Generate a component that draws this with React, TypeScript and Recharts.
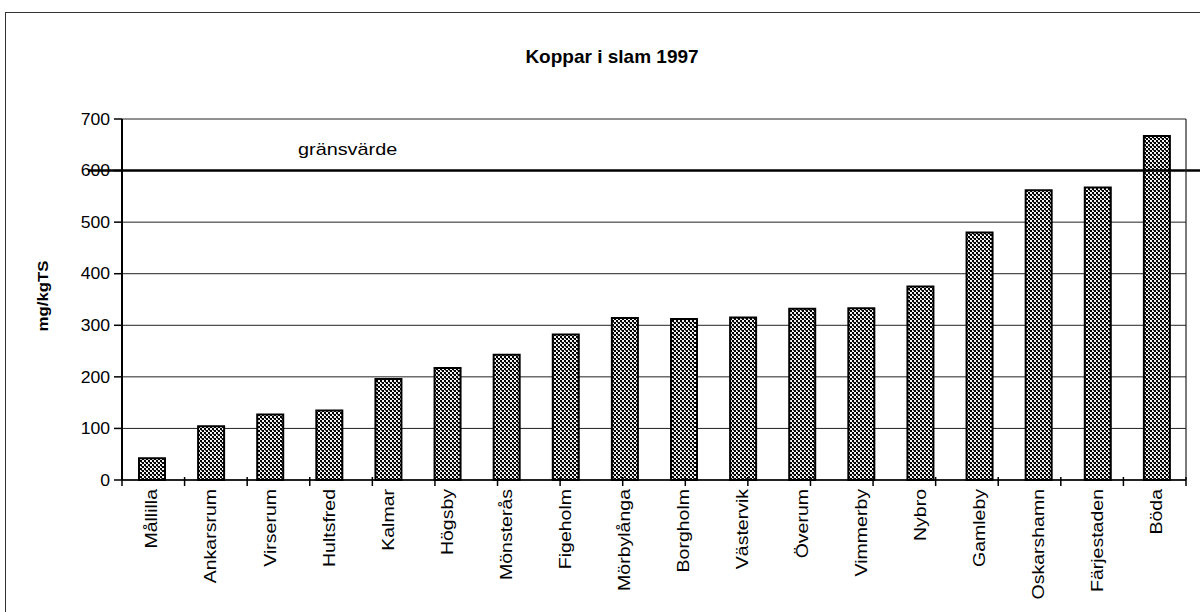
import { BarChart, Bar, XAxis, YAxis, CartesianGrid, ReferenceLine } from 'recharts';

const towns = [
  'Mållilla', 'Ankarsrum', 'Virserum', 'Hultsfred', 'Kalmar', 'Högsby',
  'Mönsterås', 'Figeholm', 'Mörbylånga', 'Borgholm', 'Västervik', 'Överum',
  'Vimmerby', 'Nybro', 'Gamleby', 'Oskarshamn', 'Färjestaden', 'Böda',
];
const copper = [42, 104, 127, 135, 196, 217, 243, 282, 314, 312, 315, 332, 333, 375, 480, 562, 567, 667];
const yTicks = [0, 100, 200, 300, 400, 500, 600, 700];
const limitValue = 600;
const limitLabel = 'gränsvärde';

const data = towns.map((name, i) => ({ name, value: copper[i] }));
const slots = towns.map((_, i) => i).concat(towns.length);

const font = '"Liberation Sans", Arial, sans-serif';

const TownTick = (props: any) => {
  const { x, y, payload } = props;
  return (
    <g transform={`translate(${x},${y})`}>
      <text
        transform="rotate(-90) scale(1.22,1)"
        textAnchor="end"
        dy="0.36em"
        fontSize={16}
        fontFamily={font}
        fill="#000"
      >
        {payload.value}
      </text>
    </g>
  );
};

// tick marks between categories, crossing the axis line
const SlotTick = (props: any) => {
  const { x, y } = props;
  return <line x1={x} x2={x} y1={y - 4} y2={y + 5} stroke="#000" strokeWidth={1.5} />;
};

const ValueTick = (props: any) => {
  const { x, y, payload } = props;
  return (
    <g transform={`translate(${x},${y})`}>
      <text transform="scale(1.1,1)" dy="0.36em" textAnchor="end" fontSize={16} fontFamily={font} fill="#000">
        {payload.value}
      </text>
    </g>
  );
};

const LimitLine = (p: any) => (
  <line x1={p.x1 - 34} y1={p.y1} x2={p.x2 + 14} y2={p.y2} stroke="#000" strokeWidth={2.5} />
);

const LimitLabel = (p: any) => (
  <g transform={`translate(${p.viewBox.x + 176},${p.viewBox.y - 16})`}>
    <text transform="scale(1.24,1)" fontSize={16} fontFamily={font} fill="#000">
      {limitLabel}
    </text>
  </g>
);

const App = () => {
  return (
    <div style={{ position: 'absolute', left: 0, top: 0, width: 1200, height: 612, background: '#fff', overflow: 'hidden' }}>
      <div style={{ position: 'absolute', left: 5, top: 12, right: 0, bottom: 0, borderLeft: '1px solid #333', borderTop: '1px solid #333' }} />
      <div
        style={{
          position: 'absolute', left: 0, width: 1224, top: 46, textAlign: 'center',
          fontFamily: font, fontWeight: 'bold', fontSize: 19,
        }}
      >
        Koppar i slam 1997
      </div>
      <div
        style={{
          position: 'absolute', left: 42, top: 296, transform: 'translate(-50%,-50%) rotate(-90deg) scaleX(1.12)',
          fontFamily: font, fontWeight: 'bold', fontSize: 15, whiteSpace: 'nowrap',
        }}
      >
        mg/kgTS
      </div>
      <BarChart
        width={1200}
        height={612}
        data={data}
        margin={{ top: 119, right: 13, bottom: 130, left: 121 }}
        barSize={26}
        style={{ position: 'absolute', left: 0, top: 0 }}
      >
        <defs>
          <pattern id="hatch" patternUnits="userSpaceOnUse" width="4" height="4">
            <rect width="4" height="4" fill="#f4f4f4" />
            <rect x="0" y="0" width="2" height="2" fill="#000" />
            <rect x="2" y="2" width="2" height="2" fill="#000" />
            <rect x="1" y="2" width="1" height="1" fill="#555" />
          </pattern>
        </defs>
        <CartesianGrid vertical={false} stroke="#222" strokeWidth={1} />
        <XAxis
          dataKey="name"
          height={1}
          interval={0}
          tickLine={false}
          tickSize={0}
          tickMargin={9}
          axisLine={{ stroke: '#000', strokeWidth: 1.5 }}
          tick={<TownTick />}
        />
        <XAxis
          xAxisId="slots"
          type="number"
          domain={[0, towns.length]}
          ticks={slots}
          interval={0}
          height={1}
          tickLine={false}
          tickSize={0}
          tickMargin={0}
          axisLine={false}
          tick={<SlotTick />}
        />
        <YAxis
          width={1}
          domain={[0, 700]}
          ticks={yTicks}
          interval={0}
          tickSize={8}
          tickMargin={4}
          tickLine={{ stroke: '#000', strokeWidth: 1.5 }}
          axisLine={{ stroke: '#000', strokeWidth: 2 }}
          tick={<ValueTick />}
        />
        <YAxis
          yAxisId="frame"
          orientation="right"
          width={1}
          domain={[0, 700]}
          tick={false}
          tickLine={false}
          axisLine={{ stroke: '#222', strokeWidth: 1.2 }}
        />
        <Bar dataKey="value" fill="url(#hatch)" stroke="#000" strokeWidth={2} isAnimationActive={false} />
        <ReferenceLine y={limitValue} shape={<LimitLine />} label={<LimitLabel />} />
      </BarChart>
    </div>
  );
};

export default App;
